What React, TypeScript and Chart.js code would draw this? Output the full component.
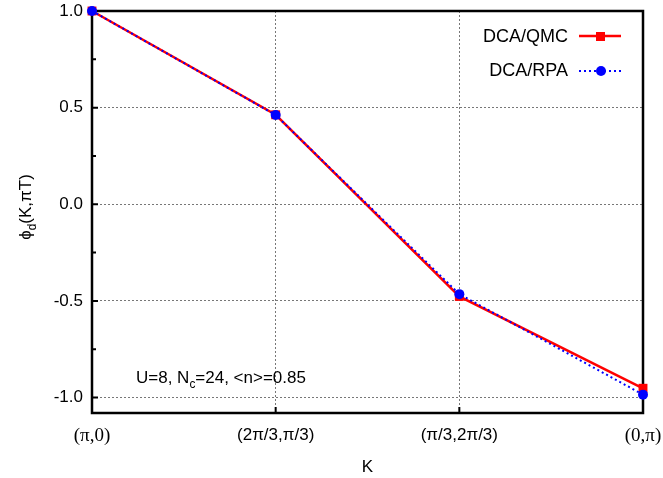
import { useEffect, useRef } from 'react';
import { Chart, registerables } from 'chart.js';

Chart.register(...registerables);

const categories = ['(π,0)', '(2π/3,π/3)', '(π/3,2π/3)', '(0,π)'];
const qmcValues = [1.0, 0.463, -0.477, -0.952];
const rpaValues = [1.0, 0.462, -0.465, -0.985];
const yTicks = [-1.0, -0.5, 0.0, 0.5, 1.0];
const yMinorTicks = [-0.75, -0.25, 0.25, 0.75];
const legendLabels = ['DCA/QMC', 'DCA/RPA'];

const SANS = '"Liberation Sans", Arial, Helvetica, sans-serif';
const SERIF = '"Liberation Serif", "Times New Roman", serif';

type Part = { t: string; sub?: boolean };

function drawParts(ctx: CanvasRenderingContext2D, parts: Part[], x: number, y: number, size: number, align: 'left' | 'center') {
  const widths = parts.map((p) => {
    ctx.font = `${p.sub ? size * 0.7 : size}px ${SANS}`;
    return ctx.measureText(p.t).width;
  });
  const total = widths.reduce((a, b) => a + b, 0);
  let cx = align === 'center' ? x - total / 2 : x;
  ctx.textAlign = 'left';
  ctx.textBaseline = 'alphabetic';
  parts.forEach((p, i) => {
    ctx.font = `${p.sub ? size * 0.7 : size}px ${SANS}`;
    ctx.fillText(p.t, cx, p.sub ? y + size * 0.3 : y);
    cx += widths[i];
  });
}

const decor = {
  id: 'decor',
  beforeDatasetsDraw(chart: any) {
    const { ctx, chartArea: a, scales } = chart;
    ctx.save();
    ctx.strokeStyle = '#000';
    ctx.lineWidth = 2;
    ctx.beginPath();
    yTicks.forEach((v) => {
      const y = scales.y.getPixelForValue(v);
      ctx.moveTo(a.left, y);
      ctx.lineTo(a.left + 6, y);
    });
    yMinorTicks.forEach((v) => {
      const y = scales.y.getPixelForValue(v);
      ctx.moveTo(a.left, y);
      ctx.lineTo(a.left + 4, y);
    });
    for (let i = 1; i < categories.length - 1; i++) {
      const x = scales.x.getPixelForValue(i);
      ctx.moveTo(x, a.bottom);
      ctx.lineTo(x, a.bottom - 6);
    }
    ctx.stroke();
    ctx.lineWidth = 2.5;
    ctx.strokeRect(a.left, a.top, a.right - a.left, a.bottom - a.top);
    ctx.restore();
  },
  afterDraw(chart: any) {
    const { ctx, chartArea: a } = chart;
    ctx.save();
    ctx.fillStyle = '#000';
    // x title
    ctx.font = `17px ${SANS}`;
    ctx.textAlign = 'center';
    ctx.textBaseline = 'alphabetic';
    ctx.fillText('K', (a.left + a.right) / 2, 472);
    // y title
    ctx.save();
    ctx.translate(31, 207);
    ctx.rotate(-Math.PI / 2);
    drawParts(ctx, [{ t: 'ϕ' }, { t: 'd', sub: true }, { t: '(K,πT)' }], 0, 0, 17, 'center');
    ctx.restore();
    // annotation
    drawParts(
      ctx,
      [{ t: 'U=8, N' }, { t: 'c', sub: true }, { t: '=24, <n>=0.85' }],
      136,
      383,
      17,
      'left'
    );
    // legend
    ctx.font = `18px ${SANS}`;
    ctx.textAlign = 'right';
    ctx.textBaseline = 'middle';
    ctx.fillText(legendLabels[0], 568, 37);
    ctx.fillText(legendLabels[1], 568, 71);
    // QMC sample
    ctx.strokeStyle = '#ff0000';
    ctx.lineWidth = 2.5;
    ctx.beginPath();
    ctx.moveTo(579, 36);
    ctx.lineTo(621, 36);
    ctx.stroke();
    ctx.fillStyle = '#ff0000';
    ctx.fillRect(596, 32, 9, 9);
    // RPA sample
    ctx.strokeStyle = '#0000ff';
    ctx.lineWidth = 2;
    ctx.setLineDash([2, 3]);
    ctx.beginPath();
    ctx.moveTo(579, 71);
    ctx.lineTo(621, 71);
    ctx.stroke();
    ctx.setLineDash([]);
    ctx.fillStyle = '#0000ff';
    ctx.beginPath();
    ctx.arc(601, 71, 5, 0, Math.PI * 2);
    ctx.fill();
    ctx.restore();
  },
};

export default function App() {
  const canvasRef = useRef<HTMLCanvasElement>(null);

  useEffect(() => {
    document.body.style.margin = '0';
    const canvas = canvasRef.current;
    if (!canvas) return;
    const chart = new Chart(canvas, {
      type: 'line',
      data: {
        labels: categories,
        datasets: [
          {
            label: legendLabels[0],
            data: qmcValues,
            borderColor: '#ff0000',
            backgroundColor: '#ff0000',
            borderWidth: 2.5,
            pointStyle: 'rect',
            pointRadius: 6.3,
            pointBorderWidth: 0,
            tension: 0,
            clip: false as any,
            order: 2,
          },
          {
            label: legendLabels[1],
            data: rpaValues,
            borderColor: '#0000ff',
            backgroundColor: '#0000ff',
            borderWidth: 2,
            borderDash: [2, 3],
            pointStyle: 'circle',
            pointRadius: 5,
            pointBorderWidth: 0,
            tension: 0,
            clip: false as any,
            order: 1,
          },
        ],
      },
      options: {
        animation: false,
        responsive: false,
        maintainAspectRatio: false,
        layout: { padding: { left: 0, top: 11, right: 20, bottom: 0 } },
        plugins: {
          legend: { display: false },
          tooltip: { enabled: false },
        },
        scales: {
          x: {
            type: 'category',
            offset: false,
            grid: { color: '#777', lineWidth: 1, drawTicks: false },
            border: { display: false, dash: [2, 2] },
            ticks: {
              color: '#000',
              padding: 12,
              maxRotation: 0,
              autoSkip: false,
              font: (c: any) =>
                c.index === 0 || c.index === categories.length - 1
                  ? { family: SERIF, size: 19 }
                  : { family: SANS, size: 17 },
            },
            afterFit: (s: any) => {
              s.height = 65;
              s.paddingLeft = 0;
              s.paddingRight = 0;
            },
          },
          y: {
            type: 'linear',
            min: -1.08,
            max: 1.0,
            grid: { color: '#777', lineWidth: 1, drawTicks: false },
            border: { display: false, dash: [2, 2] },
            afterBuildTicks: (s: any) => {
              s.ticks = yTicks.map((v) => ({ value: v }));
            },
            ticks: {
              color: '#000',
              padding: 9,
              font: { family: SANS, size: 17 },
              callback: (v: any) => Number(v).toFixed(1),
            },
            afterFit: (s: any) => {
              s.width = 92;
              s.paddingTop = 0;
              s.paddingBottom = 0;
            },
          },
        },
      },
      plugins: [decor],
    });
    return () => chart.destroy();
  }, []);

  return (
    <div style={{ position: 'relative', width: 663, height: 478, background: '#fff' }}>
      <canvas ref={canvasRef} width={663} height={478} style={{ display: 'block' }} />
    </div>
  );
}
